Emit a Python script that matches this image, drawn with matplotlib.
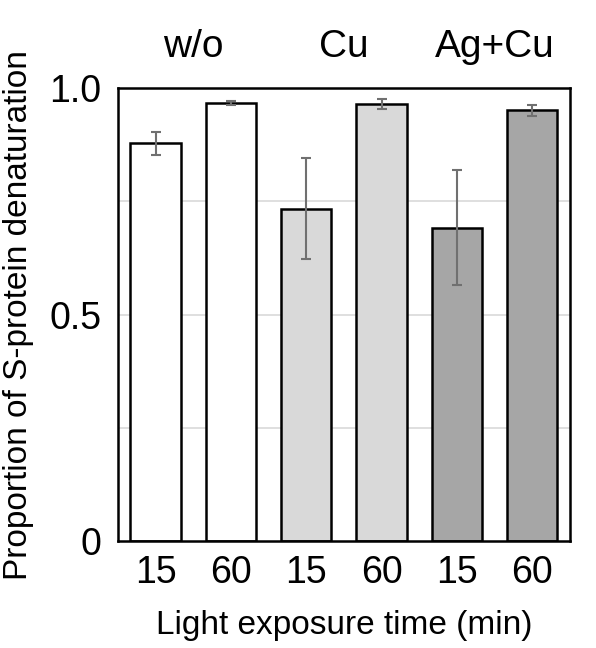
import matplotlib
matplotlib.use("Agg")
import matplotlib.pyplot as plt
import numpy as np

plt.rcParams['font.family'] = ['Liberation Sans', 'DejaVu Sans']

groups = ["w/o", "Cu", "Ag+Cu"]
times = ["15", "60", "15", "60", "15", "60"]
values = [0.878, 0.967, 0.734, 0.964, 0.692, 0.951]
errors = [0.026, 0.005, 0.112, 0.011, 0.127, 0.012]
colors = ["#ffffff", "#ffffff", "#d9d9d9", "#d9d9d9", "#a6a6a6", "#a6a6a6"]

fig = plt.figure(figsize=(5.96, 6.48), dpi=100)
ax = fig.add_axes([0.198, 0.165, 0.758, 0.699])

x = np.arange(len(values))
ax.bar(x, values, width=0.67, color=colors, edgecolor="black", linewidth=1.8, zorder=2)
ax.errorbar(x, values, yerr=errors, fmt="none", ecolor="#707070", elinewidth=1.5,
            capsize=3.8, capthick=1.5, zorder=3)

for yg in [0.25, 0.5, 0.75]:
    ax.axhline(yg, color="#d9d9d9", linewidth=1.2, zorder=1)

ax.set_xlim(-0.5, 5.5)
ax.set_ylim(0, 1.0)
ax.set_yticks([0, 0.5, 1.0])
ax.set_yticklabels(["0", "0.5", "1.0"])
ax.set_xticks(x)
ax.set_xticklabels(times)
ax.tick_params(axis="both", length=0, labelsize=27)
ax.tick_params(axis="x", pad=10)
ax.tick_params(axis="y", pad=12)
for s in ax.spines.values():
    s.set_linewidth(1.8)

for i, g in enumerate(groups):
    ax.text(2 * i + 0.5, 1.05, g, ha="center", va="bottom", fontsize=28,
            transform=ax.get_xaxis_transform())

ax.set_xlabel("Light exposure time (min)", fontsize=24, labelpad=14)
ax.set_ylabel("Proportion of S-protein denaturation", fontsize=24)
ax.yaxis.set_label_coords(-0.186, 0.5)

fig.savefig("out.png", dpi=100)
